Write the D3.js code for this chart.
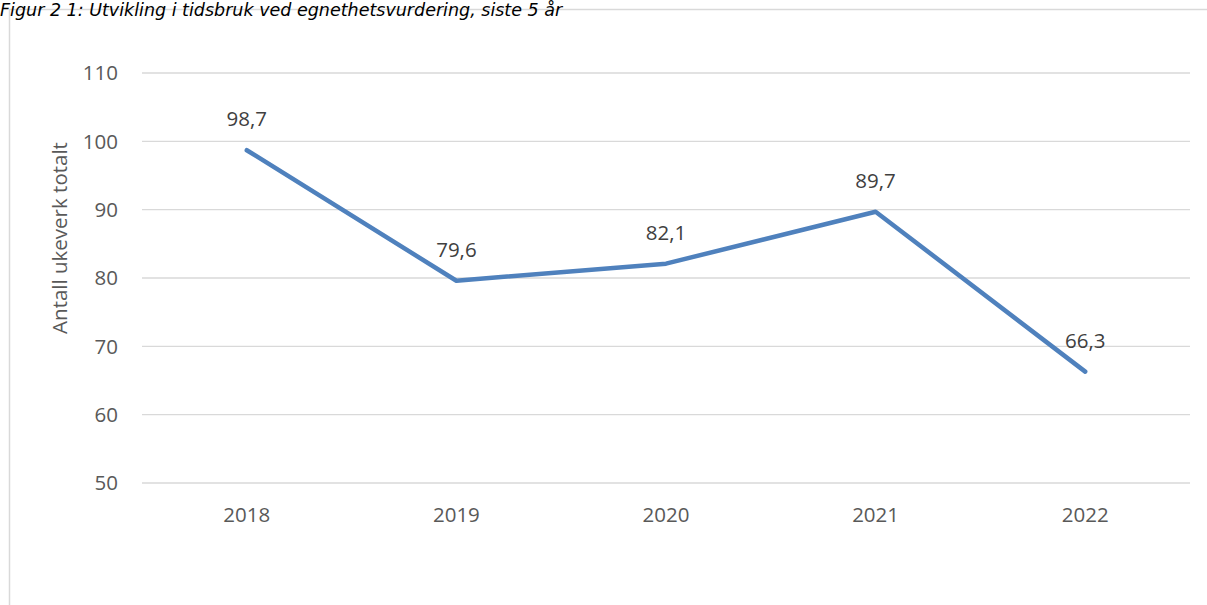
<!DOCTYPE html>
<html>
<head>
<meta charset="utf-8">
<script src="https://cdn.jsdelivr.net/npm/d3@7"></script>
<style>
  body { margin: 0; background: #fff; }
  svg { display: block; }
  text { font-family: "Open Sans", "Liberation Sans", sans-serif; fill: #595959; }
</style>
</head>
<body>
<div id="chart"></div>
<script>
const years = ["2018", "2019", "2020", "2021", "2022"]
const values = [98.7, 79.6, 82.1, 89.7, 66.3]
const yTicks = [50, 60, 70, 80, 90, 100, 110]

const width = 1207, height = 605
const svg = d3.select("#chart").append("svg")
    .attr("width", width).attr("height", height)

// chart frame (only top and left edges are visible in the crop)
svg.append("path")
    .attr("d", `M9.5,${height} V9.5 H${width}`)
    .attr("fill", "none").attr("stroke", "#d9d9d9").attr("stroke-width", 1.5)

svg.append("text")
    .attr("x", 0).attr("y", 16)
    .style("font-family", "'DejaVu Sans', Verdana, sans-serif")
    .style("font-style", "italic")
    .style("font-size", "17.5px")
    .style("fill", "#000")
    .text("Figur 2 1: Utvikling i tidsbruk ved egnethetsvurdering, siste 5 år")

const x = d3.scaleBand().domain(years).range([142, 1190])
const y = d3.scaleLinear().domain([50, 110]).range([483, 73])

// gridlines
svg.append("g").selectAll("line").data(yTicks).join("line")
    .attr("x1", 142).attr("x2", 1190)
    .attr("y1", d => y(d)).attr("y2", d => y(d))
    .attr("stroke", "#d9d9d9").attr("stroke-width", 1.3)

// y axis labels
svg.append("g").selectAll("text").data(yTicks).join("text")
    .attr("x", 118).attr("y", d => y(d)).attr("dy", "0.35em")
    .attr("text-anchor", "end")
    .style("font-size", "20.5px")
    .text(d => d)

// x axis labels
svg.append("g").selectAll("text").data(years).join("text")
    .attr("x", d => x(d) + x.bandwidth() / 2).attr("y", 515)
    .attr("dy", "0.35em")
    .attr("text-anchor", "middle")
    .style("font-size", "20.5px")
    .text(d => d)

svg.append("text")
    .attr("transform", "translate(60,238) rotate(-90)")
    .attr("text-anchor", "middle").attr("dy", "0.35em")
    .style("font-size", "20.5px")
    .text("Antall ukeverk totalt")

const data = years.map((yr, i) => ({ year: yr, value: values[i] }))
const line = d3.line()
    .x(d => x(d.year) + x.bandwidth() / 2)
    .y(d => y(d.value))

svg.append("path").datum(data)
    .attr("d", line)
    .attr("fill", "none")
    .attr("stroke", "#4f81bd")
    .attr("stroke-width", 4.5)
    .attr("stroke-linejoin", "round")
    .attr("stroke-linecap", "round")

const fmt = d3.format(".1f")
svg.append("g").selectAll("text").data(data).join("text")
    .attr("x", d => x(d.year) + x.bandwidth() / 2)
    .attr("y", d => y(d.value) - 31)
    .attr("dy", "0.35em")
    .attr("text-anchor", "middle")
    .style("font-size", "20.5px")
    .style("fill", "#404040")
    .text(d => fmt(d.value).replace(".", ","))
</script>
</body>
</html>
